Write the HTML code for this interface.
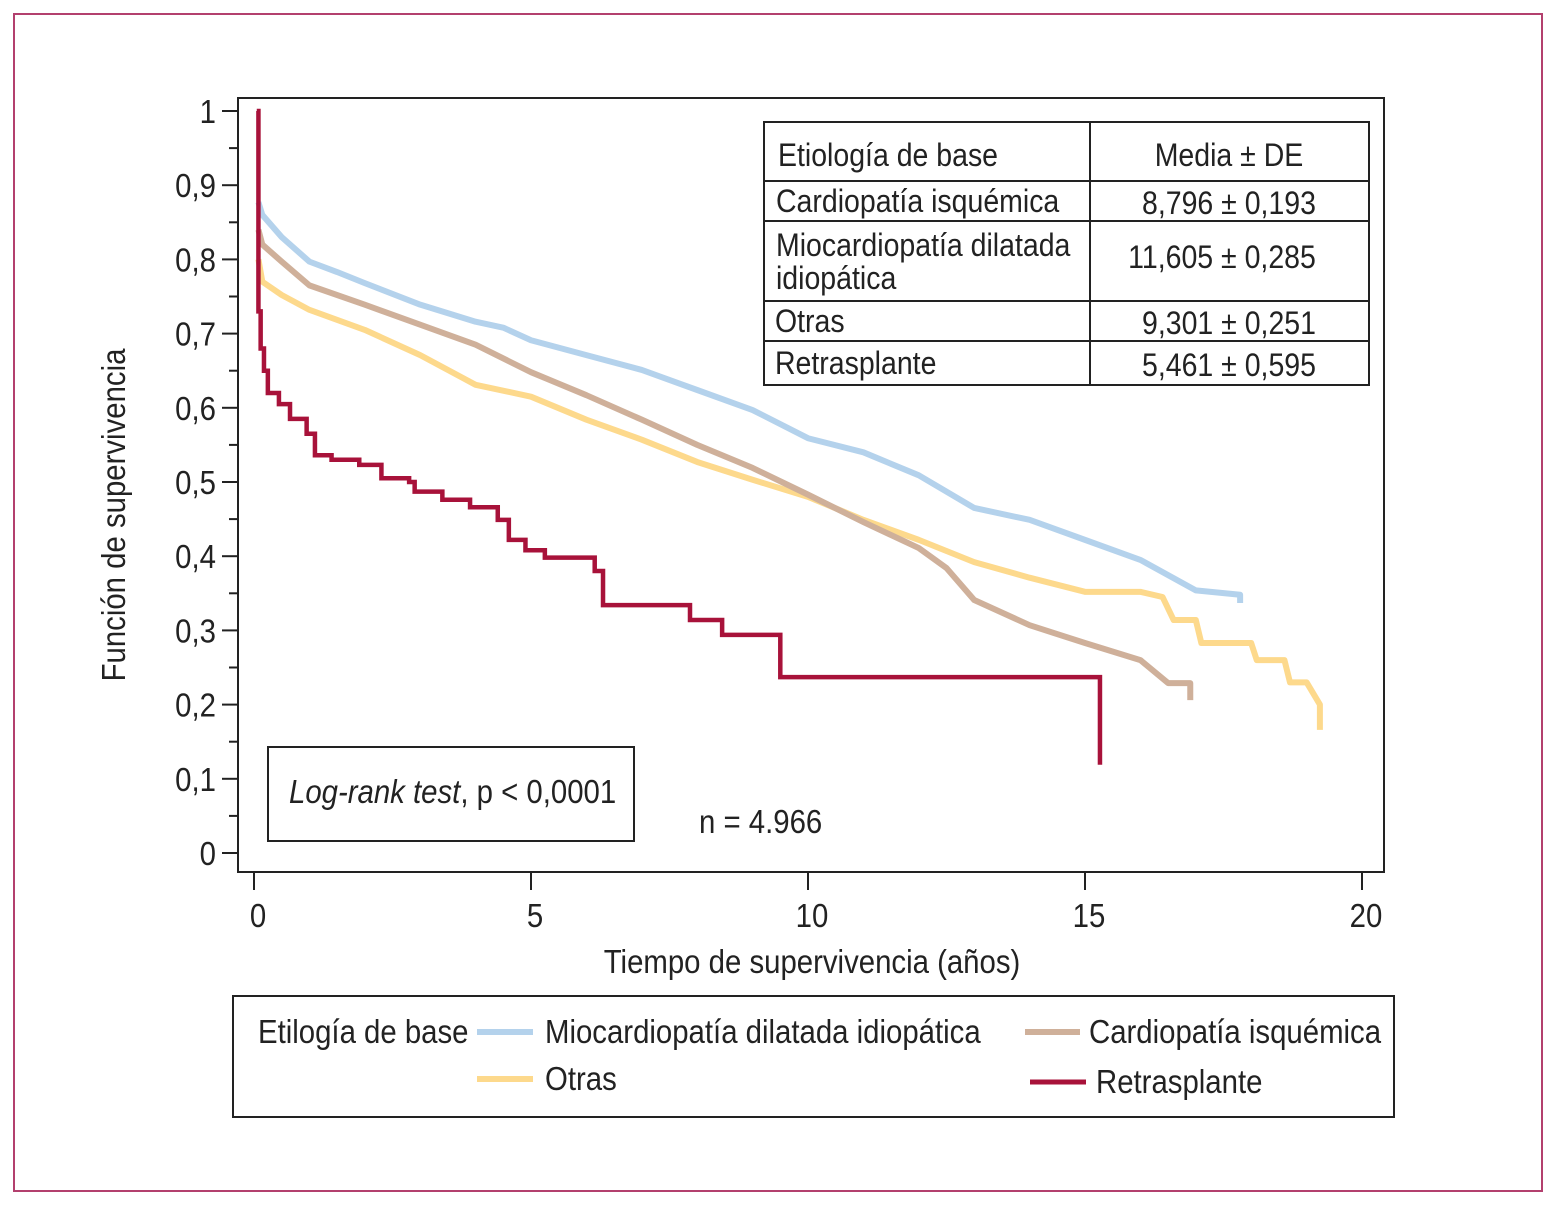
<!DOCTYPE html>
<html><head><meta charset="utf-8">
<style>
body{margin:0;background:#fff;width:1562px;height:1220px;overflow:hidden}
svg text{font-family:"Liberation Sans",sans-serif;fill:#222}
</style></head><body>
<svg id="chart" width="1562" height="1220" xmlns="http://www.w3.org/2000/svg">
<rect x="14" y="14" width="1528" height="1177" fill="none" stroke="#b3406e" stroke-width="2"/>
<rect x="238" y="98" width="1146" height="774" fill="none" stroke="#222" stroke-width="2"/>
<g id="yaxis"></g>
<g id="xaxis"></g>
<g id="lines"></g>
<text x="125" y="515" font-size="33" text-anchor="middle" transform="rotate(-90 125 515)">Función de supervivencia</text>
<text x="812" y="973" font-size="33" text-anchor="middle">Tiempo de supervivencia (años)</text>
<g>
<rect x="764" y="122" width="605" height="263" fill="#fff" stroke="#222" stroke-width="2"/>
<line x1="1090" y1="122" x2="1090" y2="385" stroke="#222" stroke-width="2"/>
<line x1="764" y1="181" x2="1369" y2="181" stroke="#222" stroke-width="2"/>
<line x1="764" y1="221" x2="1369" y2="221" stroke="#222" stroke-width="2"/>
<line x1="764" y1="301" x2="1369" y2="301" stroke="#222" stroke-width="2"/>
<line x1="764" y1="341" x2="1369" y2="341" stroke="#222" stroke-width="2"/>
<g font-size="32">
<text x="778" y="166">Etiología de base</text>
<text x="1229" y="166" text-anchor="middle">Media ± DE</text>
<text x="776" y="212">Cardiopatía isquémica</text>
<text x="1229" y="214" text-anchor="middle">8,796 ± 0,193</text>
<text x="776" y="256">Miocardiopatía dilatada</text>
<text x="776" y="289">idiopática</text>
<text x="1222" y="268" text-anchor="middle">11,605 ± 0,285</text>
<text x="775" y="332">Otras</text>
<text x="1229" y="334" text-anchor="middle">9,301 ± 0,251</text>
<text x="775" y="374">Retrasplante</text>
<text x="1229" y="376" text-anchor="middle">5,461 ± 0,595</text>
</g></g>
<g>
<rect x="268" y="747" width="366" height="94" fill="#fff" stroke="#222" stroke-width="2"/>
<text x="289" y="803" font-size="33"><tspan font-style="italic">Log-rank test</tspan>, p &lt; 0,0001</text>
</g>
<text x="699" y="833" font-size="33">n = 4.966</text>
<g font-size="33">
<rect x="233" y="996" width="1161" height="121" fill="#fff" stroke="#222" stroke-width="2"/>
<text x="258" y="1043">Etilogía de base</text>
<line x1="477" y1="1032" x2="533" y2="1032" stroke="#b4d2ec" stroke-width="6"/>
<text x="545" y="1043">Miocardiopatía dilatada idiopática</text>
<line x1="1025" y1="1032" x2="1080" y2="1032" stroke="#cfb09a" stroke-width="6"/>
<text x="1089" y="1043">Cardiopatía isquémica</text>
<line x1="477" y1="1079" x2="533" y2="1079" stroke="#fdd98c" stroke-width="6"/>
<text x="545" y="1090">Otras</text>
<line x1="1030" y1="1082" x2="1086" y2="1082" stroke="#a8123a" stroke-width="5"/>
<text x="1096" y="1093">Retrasplante</text>
</g>
</svg>
<script>
const yTicks=[0,0.1,0.2,0.3,0.4,0.5,0.6,0.7,0.8,0.9,1];
const yTickLabels=["0","0,1","0,2","0,3","0,4","0,5","0,6","0,7","0,8","0,9","1"];
const xTicks=[0,5,10,15,20];
const xTickLabels=["0","5","10","15","20"];
const blueT=[0.08,0.15,0.5,1.0,1.5,2.0,3.0,4.0,4.5,5.0,6.0,7.0,8.0,9.0,10.0,11,12,13,14,15,16,17,17.8,17.8];
const blueS=[0.877,0.86,0.83,0.797,0.783,0.768,0.739,0.716,0.708,0.691,0.671,0.651,0.624,0.597,0.559,0.54,0.509,0.465,0.449,0.422,0.395,0.354,0.348,0.337];
const tanT=[0.08,0.15,0.5,1,2,3,4,5,6,7,8,9,10,11,12,12.5,13,14,15,16,16.5,16.9,16.9];
const tanS=[0.84,0.82,0.797,0.765,0.739,0.712,0.685,0.648,0.617,0.584,0.55,0.519,0.483,0.446,0.411,0.384,0.341,0.307,0.283,0.26,0.229,0.229,0.206];
const yelT=[0.08,0.15,0.5,1,2,3,4,5,6,7,8,9,10,11,12,13,14,15,16,16.4,16.6,17,17.1,18,18.1,18.6,18.7,19,19.24,19.24];
const yelS=[0.80,0.77,0.752,0.732,0.705,0.671,0.631,0.615,0.584,0.557,0.527,0.503,0.48,0.449,0.422,0.392,0.371,0.352,0.352,0.345,0.314,0.314,0.283,0.283,0.26,0.26,0.23,0.23,0.2,0.166];
const redT=[0.05,0.08,0.12,0.18,0.25,0.45,0.65,0.95,1.1,1.4,1.9,2.3,2.8,2.9,3.4,3.9,4.4,4.6,4.9,5.25,6.15,6.3,7.87,8.45,9.5,15.27];
const redS=[1.0,0.73,0.68,0.65,0.62,0.605,0.585,0.565,0.536,0.53,0.523,0.505,0.5,0.487,0.476,0.466,0.449,0.422,0.408,0.398,0.38,0.334,0.314,0.294,0.237,0.119];
const X=t=>254+55.4*t, Y=s=>853-742*s;
const NS="http://www.w3.org/2000/svg";
const ya=document.getElementById('yaxis'),xa=document.getElementById('xaxis'),lg=document.getElementById('lines');
function mk(tag,attrs,parent){const e=document.createElementNS(NS,tag);for(const k in attrs)e.setAttribute(k,attrs[k]);parent.appendChild(e);return e;}
yTicks.forEach((v,i)=>{
  const l=mk('line',{x1:222,x2:238,y1:Y(v),y2:Y(v),stroke:'#222','stroke-width':2},ya);
  
  
  const t=mk('text',{x:216,y:Y(v)+12,'font-size':33,'text-anchor':'end'},ya);t.textContent=yTickLabels[i];
  
  
  if(i<yTicks.length-1){const m=(v+yTicks[i+1])/2;
    const ml=mk('line',{x1:229,x2:238,y1:Y(m),y2:Y(m),stroke:'#222','stroke-width':2},ya);
    
    }
});
xTicks.forEach((v,i)=>{
  const l=mk('line',{x1:X(v),x2:X(v),y1:872,y2:890,stroke:'#222','stroke-width':2},xa);
  
  
  const t=mk('text',{x:X(v)+4,y:927,'font-size':33,'text-anchor':'middle'},xa);t.textContent=xTickLabels[i];
  
  
});
function smooth(T,S,color,w,name){
  let d='M'+X(T[0])+','+Y(S[0]);
  for(let i=1;i<T.length;i++){d+=' L'+X(T[i])+','+Y(S[i]);}
  const p=mk('path',{d:d,fill:'none',stroke:color,'stroke-width':w,'stroke-linejoin':'round'},lg);
  
  
}
function step(T,S,color,w,name){
  let d='M'+X(T[0])+','+Y(S[0]);
  for(let i=1;i<T.length;i++){d+=' H'+X(T[i])+' V'+Y(S[i]);}
  const p=mk('path',{d:d,fill:'none',stroke:color,'stroke-width':w},lg);
  
  
}
smooth(yelT,yelS,'#fdd98c',6,'otras-curve');
smooth(tanT,tanS,'#cfb09a',6,'cardiopatia-curve');
smooth(blueT,blueS,'#b4d2ec',6,'miocardiopatia-curve');
step(redT,redS,'#a8123a',4.5,'retrasplante-curve');
const K=0.89;
document.querySelectorAll('svg text').forEach(t=>{
  const x=parseFloat(t.getAttribute('x'));
  const prev=t.getAttribute('transform')||'';
  t.setAttribute('transform',prev+' translate('+x+',0) scale('+K+',1) translate('+(-x)+',0)');
});
</script>
</body></html>
